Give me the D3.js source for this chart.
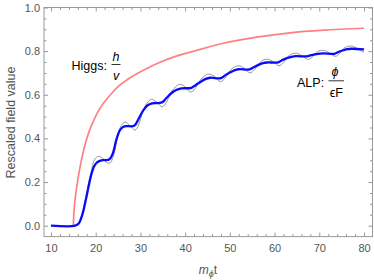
<!DOCTYPE html>
<html>
<head>
<meta charset="utf-8">
<script src="https://cdn.jsdelivr.net/npm/d3@7"></script>
<style>
  body { margin: 0; background: #fff; }
  text { font-family: "Liberation Sans", Arial, sans-serif; }
</style>
</head>
<body>
<svg id="chart" width="374" height="280"></svg>
<script>
// Higgs curve h/v (pink)
var higgsT = [15, 15.05, 15.2, 15.5, 16, 16.7, 17.4, 18.5, 19.6, 21, 23.3, 25, 27.1, 30.8, 34.5, 38, 42, 48.5, 56, 63.5, 71, 80];
var higgsV = [0, 0.03, 0.08, 0.14, 0.21, 0.29, 0.355, 0.43, 0.485, 0.54, 0.60, 0.637, 0.67, 0.714, 0.75, 0.777, 0.80, 0.836, 0.864, 0.884, 0.896, 0.905];

// ALP curve phi/(eps F), smoothed (blue)
var alpT = [10, 15.4, 16.2, 17, 17.8, 18.9, 19.6, 20.3, 21.5, 23, 23.8, 24.7, 25.5, 26.4, 28.6, 29.6, 30.6, 31.6, 32.6, 34.8,
  35.8, 36.9, 38, 39.2, 41.4, 42.4, 43.5, 44.5, 45.6, 48, 49, 50.1, 51, 52, 54.4, 55.4, 56.5, 57.4, 58.3, 60.8,
  61.8, 62.9, 63.8, 64.8, 67.2, 68.2, 69.2, 70.1, 71, 73.4, 74.4, 75.4, 76.3, 77.2, 80];
var alpV = [0, 0, 0.01, 0.05, 0.12, 0.225, 0.27, 0.29, 0.300, 0.303, 0.33, 0.40, 0.44, 0.455, 0.458, 0.49, 0.527, 0.552, 0.561, 0.565,
  0.585, 0.607, 0.622, 0.629, 0.632, 0.645, 0.660, 0.672, 0.678, 0.676, 0.69, 0.703, 0.712, 0.717, 0.716, 0.727, 0.738, 0.745, 0.748, 0.749,
  0.76, 0.769, 0.774, 0.777, 0.776, 0.782, 0.786, 0.789, 0.790, 0.788, 0.797, 0.804, 0.809, 0.811, 0.808];

// ALP curve, full oscillation (thin gray)
var rawT = [10, 15.4, 16.2, 17, 17.8, 18.9, 19.8, 20.6, 21.5, 22.6, 23.3, 24.1, 24.9, 25.7, 26.6, 27.6, 28.8, 29.6, 30.5, 31.4,
  32.5, 33.6, 34.9, 35.8, 36.8, 37.8, 38.8, 39.8, 41.2, 42.2, 43.3, 44.3, 45.3, 46.5, 47.9, 48.9, 50, 51, 52, 53.2,
  54.5, 55.5, 56.6, 57.5, 58.5, 59.8, 61, 62, 63, 64, 64.9, 66.2, 67.4, 68.4, 69.4, 70.3, 71.2, 72.4, 73.6, 74.6,
  75.6, 76.5, 77.4, 78.6, 79.8, 80];
var rawV = [0, 0, 0.012, 0.055, 0.13, 0.24, 0.305, 0.318, 0.31, 0.288, 0.29, 0.33, 0.41, 0.458, 0.475, 0.46, 0.438, 0.462, 0.52, 0.56,
  0.58, 0.566, 0.545, 0.565, 0.61, 0.635, 0.648, 0.64, 0.612, 0.628, 0.665, 0.686, 0.695, 0.685, 0.66, 0.675, 0.71, 0.727, 0.733, 0.722,
  0.70, 0.715, 0.745, 0.76, 0.763, 0.75, 0.733, 0.748, 0.775, 0.788, 0.79, 0.778, 0.762, 0.772, 0.795, 0.803, 0.803, 0.79, 0.776, 0.79,
  0.815, 0.822, 0.823, 0.81, 0.797, 0.797];

var xMajor = [10, 20, 30, 40, 50, 60, 70, 80];
var yMajor = [0, 0.2, 0.4, 0.6, 0.8, 1.0];

var svg = d3.select("#chart");

var x = d3.scaleLinear().domain([8.435, 81.9]).range([44, 372.5]);
var y = d3.scaleLinear().domain([-0.05, 1.0]).range([236.6, 7.5]);

var xMinor = d3.range(10, 81, 2).filter(function (d) { return d % 10 !== 0; });
var yMinor = d3.range(0, 1.001, 0.05).filter(function (d) { return Math.abs(d * 5 - Math.round(d * 5)) > 1e-6; });

// frame
svg.append("rect")
  .attr("x", x.range()[0]).attr("y", y.range()[1])
  .attr("width", x.range()[1] - x.range()[0])
  .attr("height", y.range()[0] - y.range()[1])
  .attr("fill", "none").attr("stroke", "#999").attr("stroke-width", 1);

function drawAxis(axis, tx, ty, labels) {
  var g = svg.append("g").attr("transform", "translate(" + tx + "," + ty + ")").call(axis);
  g.select(".domain").remove();
  g.selectAll(".tick line").attr("stroke", "#999");
  g.selectAll("text").attr("fill", "#555").style("font-size", "11px");
  if (!labels) g.selectAll("text").remove();
  return g;
}

var bottomY = y.range()[0], topY = y.range()[1], leftX = x.range()[0], rightX = x.range()[1];

drawAxis(d3.axisBottom(x).tickValues(xMajor).tickSize(-4).tickPadding(8).tickFormat(d3.format("d")), 0, bottomY, true);
drawAxis(d3.axisBottom(x).tickValues(xMinor).tickSize(-2.5), 0, bottomY, false);
drawAxis(d3.axisTop(x).tickValues(xMajor).tickSize(-4), 0, topY, false);
drawAxis(d3.axisTop(x).tickValues(xMinor).tickSize(-2.5), 0, topY, false);
drawAxis(d3.axisLeft(y).tickValues(yMajor).tickSize(-4).tickPadding(4).tickFormat(d3.format(".1f")), leftX, 0, true);
drawAxis(d3.axisLeft(y).tickValues(yMinor).tickSize(-2.5), leftX, 0, false);
drawAxis(d3.axisRight(y).tickValues(yMajor).tickSize(-4), rightX, 0, false);
drawAxis(d3.axisRight(y).tickValues(yMinor).tickSize(-2.5), rightX, 0, false);

// curves
function pairs(t, v) { return t.map(function (d, i) { return [d, v[i]]; }); }

function lineWith(curve) {
  return d3.line().curve(curve)
    .x(function (d) { return x(d[0]); })
    .y(function (d) { return y(d[1]); });
}

svg.append("path").datum(pairs(higgsT, higgsV))
  .attr("d", lineWith(d3.curveMonotoneX)).attr("fill", "none")
  .attr("stroke", "#ff8080").attr("stroke-width", 1.7);

svg.append("path").datum(pairs(rawT, rawV))
  .attr("d", lineWith(d3.curveCatmullRom)).attr("fill", "none")
  .attr("stroke", "#8a8a8a").attr("stroke-width", 0.9);

svg.append("path").datum(pairs(alpT, alpV))
  .attr("d", lineWith(d3.curveCatmullRom)).attr("fill", "none")
  .attr("stroke", "#0a0aff").attr("stroke-width", 2.3);

// labels on curves
svg.append("text").attr("x", 71.5).attr("y", 69.5).style("font-size", "12.5px").text("Higgs:");
svg.append("text").attr("x", 116).attr("y", 61).attr("text-anchor", "middle")
  .style("font-size", "12.5px").style("font-style", "italic").text("h");
svg.append("line").attr("x1", 111.5).attr("x2", 120.5).attr("y1", 64.5).attr("y2", 64.5)
  .attr("stroke", "#000").attr("stroke-width", 0.8);
svg.append("text").attr("x", 116).attr("y", 80).attr("text-anchor", "middle")
  .style("font-size", "12.5px").style("font-style", "italic").text("v");

svg.append("text").attr("x", 297).attr("y", 86.5).style("font-size", "12.5px").text("ALP:");
svg.append("text").attr("x", 335).attr("y", 76).attr("text-anchor", "middle")
  .style("font-size", "12.5px").style("font-style", "italic").text("ϕ");
svg.append("line").attr("x1", 328.5).attr("x2", 344).attr("y1", 80.8).attr("y2", 80.8)
  .attr("stroke", "#000").attr("stroke-width", 0.8);
svg.append("text").attr("x", 336.3).attr("y", 97).attr("text-anchor", "middle")
  .style("font-size", "12.5px").text("ϵF");

// axis titles
var xt = svg.append("text").attr("x", 208).attr("y", 274).attr("text-anchor", "middle")
  .attr("fill", "#555").style("font-size", "12px");
xt.append("tspan").style("font-style", "italic").text("m");
xt.append("tspan").attr("dy", 2.5).style("font-size", "9px").style("font-style", "italic").text("ϕ");
xt.append("tspan").attr("dy", -2.5).text("t");

svg.append("text")
  .attr("transform", "translate(14.5,122.5) rotate(-90)")
  .attr("text-anchor", "middle")
  .attr("fill", "#555").style("font-size", "12.5px")
  .text("Rescaled field value");
</script>
</body>
</html>
